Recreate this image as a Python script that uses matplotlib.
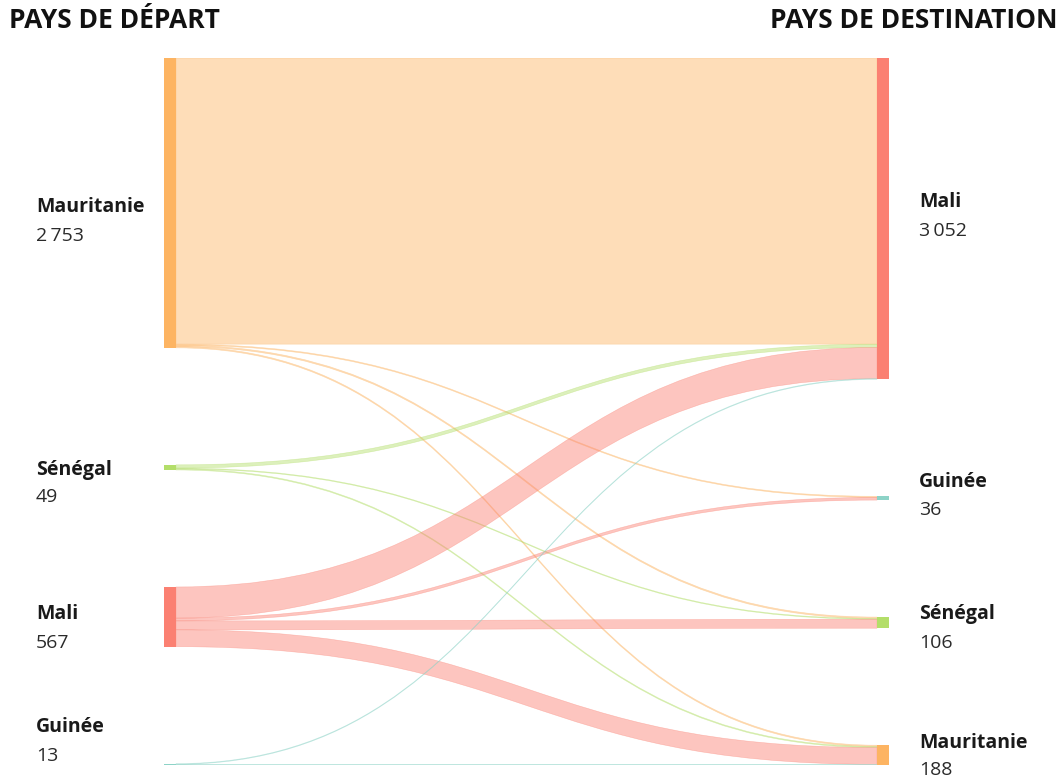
import matplotlib.pyplot as plt
from matplotlib.path import Path
from matplotlib.patches import PathPatch, Rectangle

# data: departure countries (left), destination countries (right)
sources = ["Mauritanie", "Sénégal", "Mali", "Guinée"]
targets = ["Mali", "Guinée", "Sénégal", "Mauritanie"]
# flows[i][j] = people going from sources[i] to targets[j]
flow_mauritanie = [2718, 10, 13, 12]
flow_senegal = [31, 0, 8, 10]
flow_mali = [296, 26, 85, 160]
flow_guinee = [7, 0, 0, 6]
flows = [flow_mauritanie, flow_senegal, flow_mali, flow_guinee]

colors = {
    "Mauritanie": "#FDB462",
    "Sénégal": "#B3DE69",
    "Mali": "#FB8072",
    "Guinée": "#8DD3C7",
}

# layout (pixels of a 1061x784 figure)
W, H = 1061, 784
node_pad = 1111  # gap between nodes, in value units
node_w = 12
span = 725
link_alpha = 0.45
left_label_y = {"Mauritanie": (207, 236), "Sénégal": (470, 497), "Mali": (614, 643), "Guinée": (727, 756)}
right_label_y = {"Mali": (202, 231), "Guinée": (482, 510), "Sénégal": (614, 643), "Mauritanie": (743, 770)}

plt.rcParams["font.family"] = ["Open Sans", "DejaVu Sans"]

fig = plt.figure(figsize=(W / 100, H / 100), dpi=100)
ax = fig.add_axes([164 / W, 1 - 765 / H, span / W, 707 / H])
ax.axis("off")

src_tot = [sum(r) for r in flows]
tgt_tot = [sum(flows[i][j] for i in range(len(sources))) for j in range(len(targets))]
total = sum(src_tot)
ax.set_xlim(0, span)
ax.set_ylim(total + node_pad * (len(sources) - 1), 0)


def node_tops(tots):
    tops, y = [], 0
    for t in tots:
        tops.append(y)
        y += t + node_pad
    return tops


src_top = node_tops(src_tot)
tgt_top = node_tops(tgt_tot)


def band(y0a, y0b, y1a, y1b, color):
    x0, x1 = node_w, span - node_w
    xm = (x0 + x1) / 2
    verts = [(x0, y0a), (xm, y0a), (xm, y1a), (x1, y1a),
             (x1, y1b), (xm, y1b), (xm, y0b), (x0, y0b), (x0, y0a)]
    codes = [Path.MOVETO, Path.CURVE4, Path.CURVE4, Path.CURVE4,
             Path.LINETO, Path.CURVE4, Path.CURVE4, Path.CURVE4, Path.CLOSEPOLY]
    ax.add_patch(PathPatch(Path(verts, codes), facecolor=color, edgecolor=color,
                           lw=0.4, alpha=link_alpha))


# links, stacked in node order on both sides
tgt_off = list(tgt_top)
for i, s in enumerate(sources):
    y = src_top[i]
    for j, t in enumerate(targets):
        v = flows[i][j]
        if v == 0:
            continue
        band(y, y + v, tgt_off[j], tgt_off[j] + v, colors[s])
        y += v
        tgt_off[j] += v

# nodes
for i, s in enumerate(sources):
    ax.add_patch(Rectangle((0, src_top[i]), node_w, src_tot[i], color=colors[s], lw=0))
for j, t in enumerate(targets):
    ax.add_patch(Rectangle((span - node_w, tgt_top[j]), node_w, tgt_tot[j], color=colors[t], lw=0))


def fmt(v):
    return f"{v:,}".replace(",", "\u2009")


def px(x, y):
    return x / W, 1 - y / H


for i, s in enumerate(sources):
    yn, yv = left_label_y[s]
    fig.text(*px(36, yn), s, fontsize=14, fontweight="bold", color="#1a1a1a", va="center")
    fig.text(*px(36, yv), fmt(src_tot[i]), fontsize=14, color="#2a2a2a", va="center")
for j, t in enumerate(targets):
    yn, yv = right_label_y[t]
    fig.text(*px(919, yn), t, fontsize=14, fontweight="bold", color="#1a1a1a", va="center")
    fig.text(*px(919, yv), fmt(tgt_tot[j]), fontsize=14, color="#2a2a2a", va="center")

fig.text(*px(9, 20), "PAYS DE DÉPART", fontsize=19, fontweight="bold", color="#111111", va="center")
fig.text(*px(1058, 20), "PAYS DE DESTINATION", fontsize=19, fontweight="bold", color="#111111",
         va="center", ha="right")

fig.savefig("out.png", dpi=100)
